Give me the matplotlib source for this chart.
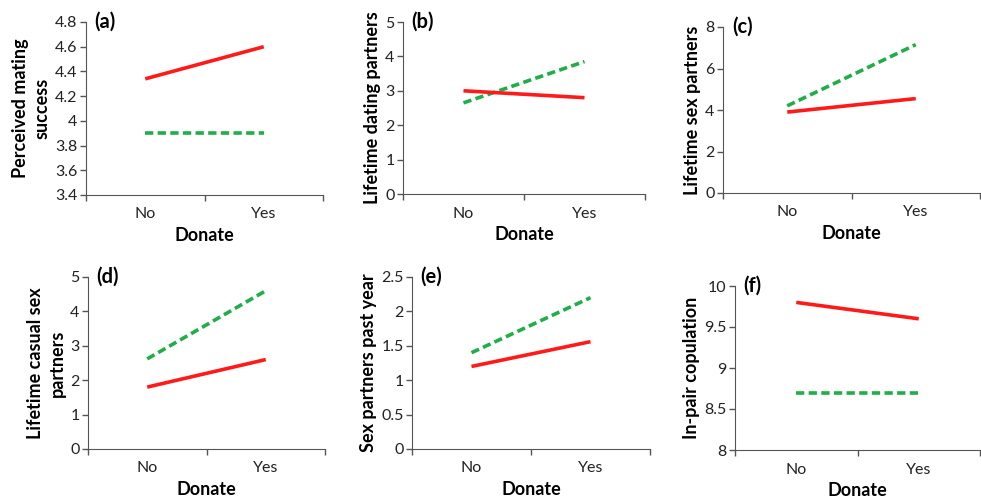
import matplotlib
matplotlib.use("Agg")
import matplotlib.pyplot as plt

plt.rcParams["font.family"] = ["Lato", "DejaVu Sans"]

categories = ["No", "Yes"]
labels = ["(a)", "(b)", "(c)", "(d)", "(e)", "(f)"]
ylabels = ["Perceived mating\nsuccess", "Lifetime dating partners", "Lifetime sex partners",
           "Lifetime casual sex\npartners", "Sex partners past year", "In-pair copulation"]
red_vals = [[4.34, 4.60], [3.0, 2.8], [3.9, 4.55], [1.8, 2.6], [1.2, 1.56], [9.8, 9.6]]
green_vals = [[3.9, 3.9], [2.65, 3.85], [4.2, 7.15], [2.62, 4.6], [1.4, 2.2], [8.7, 8.7]]
yticks = [[3.4, 3.6, 3.8, 4, 4.2, 4.4, 4.6, 4.8], [0, 1, 2, 3, 4, 5], [0, 2, 4, 6, 8],
          [0, 1, 2, 3, 4, 5], [0, 0.5, 1, 1.5, 2, 2.5], [8, 8.5, 9, 9.5, 10]]
ytick_labels = [["3.4", "3.6", "3.8", "4", "4.2", "4.4", "4.6", "4.8"],
                ["0", "1", "2", "3", "4", "5"], ["0", "2", "4", "6", "8"],
                ["0", "1", "2", "3", "4", "5"], ["0", "0.5", "1", "1.5", "2", "2.5"],
                ["8", "8.5", "9", "9.5", "10"]]

# axes boxes in pixels: left, right, top, bottom
boxes = [(86, 323, 22, 195), (403, 645, 22, 194), (723, 980, 27, 193),
         (88, 325, 277, 449), (412, 650, 277, 449), (735, 980, 286, 450)]

W, H = 981, 501
fig = plt.figure(figsize=(W / 100, H / 100), dpi=100)

for i in range(6):
    l, r, t, b = boxes[i]
    ax = fig.add_axes([l / W, (H - b) / H, (r - l) / W, (b - t) / H])
    xs = [0.5, 1.5]
    ax.plot(xs, green_vals[i], color="#1fae48", lw=2.6, dashes=(2.3, 1.2))
    ax.plot(xs, red_vals[i], color="#ff1a1a", lw=2.6, solid_capstyle="butt")
    ax.set_xlim(0, 2)
    ax.set_ylim(yticks[i][0], yticks[i][-1])
    ax.set_yticks(yticks[i])
    ax.set_yticklabels(ytick_labels[i], fontsize=11.5, color="#222222")
    ax.set_xticks([0, 1, 2])
    ax.set_xticklabels([])
    ax.set_xticks(xs, minor=True)
    ax.set_xticklabels(categories, minor=True, fontsize=11.5, color="#222222")
    ax.tick_params(axis="x", which="minor", length=0, pad=9)
    ax.tick_params(axis="y", which="major", pad=2)
    ax.tick_params(axis="both", which="major", length=4, color="#555555", width=1)
    for s in ["top", "right"]:
        ax.spines[s].set_visible(False)
    for s in ["left", "bottom"]:
        ax.spines[s].set_color("#555555")
    ax.set_ylabel(ylabels[i], fontsize=13, fontweight="bold", linespacing=1.35, labelpad=3)
    ax.set_xlabel("Donate", fontsize=13, fontweight="bold", labelpad=4)
    ax.text(0.035, 1.0, labels[i], transform=ax.transAxes, fontsize=14.5,
            fontweight="bold", va="center", ha="left")

fig.savefig("out.png", dpi=100)
